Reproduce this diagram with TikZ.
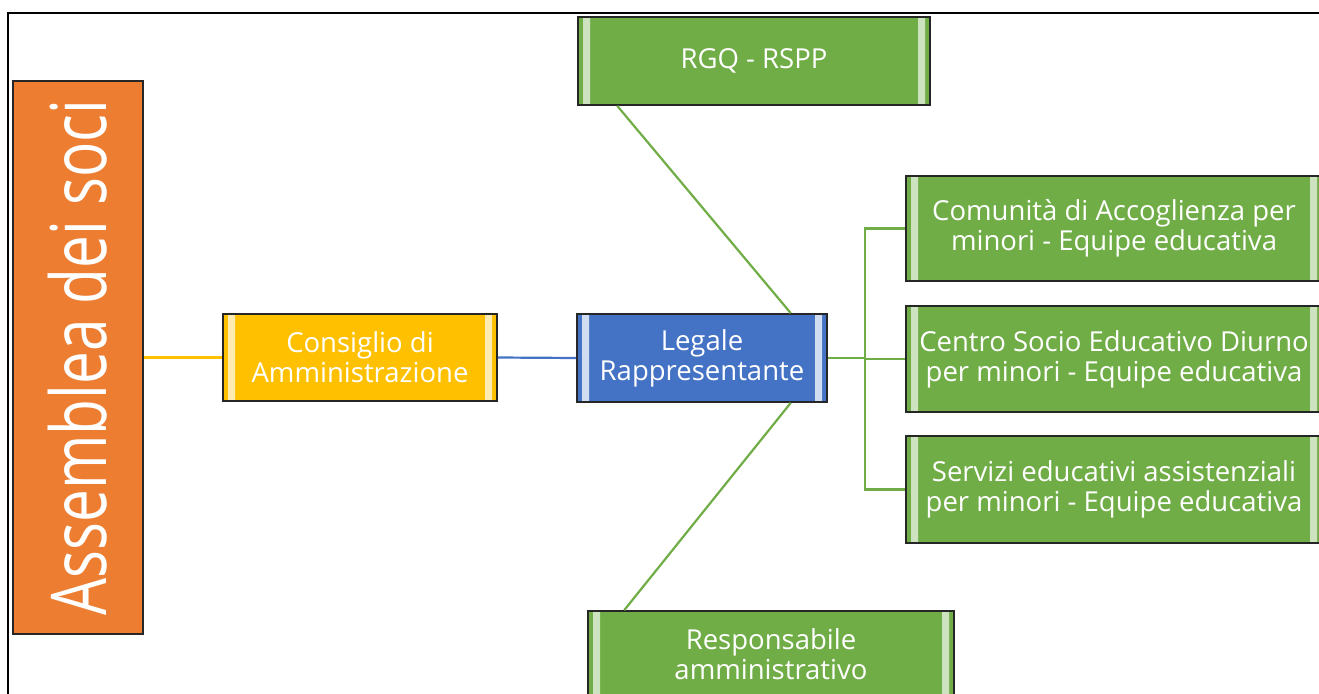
\documentclass[tikz,border=0pt]{standalone}
\usepackage{fontspec}
\setmainfont{Open Sans}
\newfontfamily\assfont[FakeStretch=0.76]{Open Sans}
\usetikzlibrary{calc}
\definecolor{orangeA}{HTML}{ED7D31}
\definecolor{goldA}{HTML}{FFC000}
\definecolor{blueA}{HTML}{4472C4}
\definecolor{greenA}{HTML}{70AD47}
\tikzset{
  box/.style={draw=black!85, line width=1.6pt, text=white, inner sep=0pt, align=center, font=\fontsize{27.5}{30}\selectfont},
  bevelh/.style={path picture={
    \fill[#1] ($(path picture bounding box.north west)+(5,-5)$) -- ++(7,-9) |- ($(path picture bounding box.south west)+(12,14)$) -- ++(-7,-9) -- cycle;
    \fill[#1] ($(path picture bounding box.north east)+(-5,-5)$) -- ++(-7,-9) |- ($(path picture bounding box.south east)+(-12,14)$) -- ++(7,-9) -- cycle;
  }},
  bevelv/.style={path picture={
    \fill[#1] ($(path picture bounding box.north west)+(5,-5)$) -- ++(9,-7) -| ($(path picture bounding box.north east)+(-14,-12)$) -- ++(9,7) -- cycle;
    \fill[#1] ($(path picture bounding box.south west)+(5,5)$) -- ++(9,7) -| ($(path picture bounding box.south east)+(-14,12)$) -- ++(9,-7) -- cycle;
  }},
  greenbox/.style={box, fill=greenA, bevelh=greenA!35!white},
  link/.style={line width=2.2pt}
}
\begin{document}
\begin{tikzpicture}[x=1pt,y=-1pt]
\useasboundingbox (0,0) rectangle (1319,693);
\clip (0,0) rectangle (1319,693);
\draw[line width=2pt] (8,13) rectangle (1340,720);

\node[box, fill=orangeA, bevelv=orangeA!40!white, minimum width=130, minimum height=553, font=\assfont\fontsize{77}{80}\selectfont] (ass) at (78,357.5) {\rotatebox{90}{Assemblea dei soci}};
\node[box, fill=goldA, bevelh=goldA!30!white, minimum width=274, minimum height=87] (cons) at (360,357.5) {Consiglio di\\Amministrazione};
\node[box, fill=blueA, bevelh=blueA!25!white, minimum width=250, minimum height=88] (leg) at (702,358) {Legale\\Rappresentante};
\node[greenbox, minimum width=352, minimum height=88] (rgq) at (754,61) {RGQ - RSPP};
\node[greenbox, minimum width=416, minimum height=105] (com) at (1114,228.5) {Comunità di Accoglienza per\\minori - Equipe educativa};
\node[greenbox, minimum width=416, minimum height=106] (cen) at (1114,359) {Centro Socio Educativo Diurno\\per minori - Equipe educativa};
\node[greenbox, minimum width=416, minimum height=107] (ser) at (1114,489.5) {Servizi educativi assistenziali\\per minori - Equipe educativa};
\node[greenbox, minimum width=366, minimum height=86] (resp) at (771,654) {Responsabile\\amministrativo};

\coordinate (j) at (865,358);
\draw[link, goldA] (ass.east |- cons.west) -- (cons.west);
\draw[link, blueA] (cons.east) -- (leg.west);
\draw[link, greenA] (leg.east) -- (j);
\draw[link, greenA] (j) |- (com.west);
\draw[link, greenA] (j) |- (cen.west);
\draw[link, greenA] (j) |- (ser.west);
\draw[link, greenA] ($(rgq.south west)+(40,0)$) -- ($(leg.north east)+(-37,0)$);
\draw[link, greenA] ($(resp.north west)+(37,0)$) -- ($(leg.south east)+(-37,0)$);
\end{tikzpicture}
\end{document}
